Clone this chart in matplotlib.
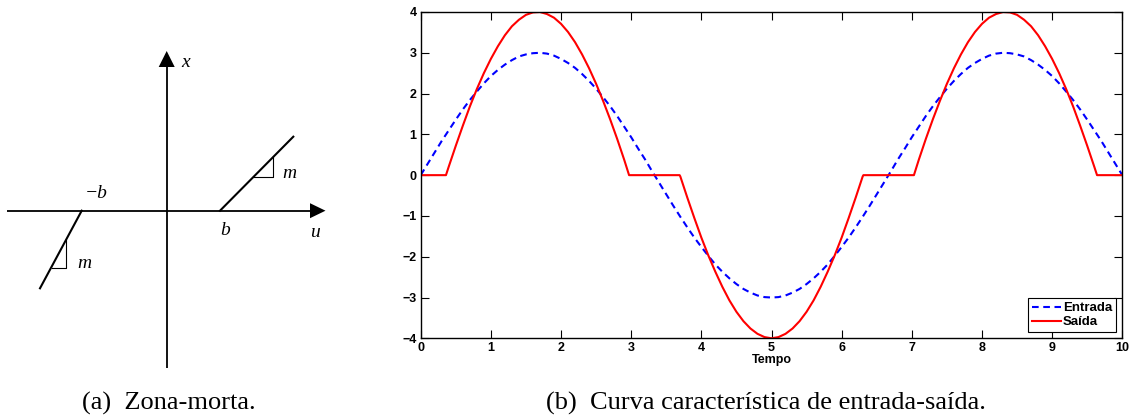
import matplotlib
matplotlib.use("Agg")
import matplotlib.pyplot as plt
from matplotlib.patches import Polygon

# ---------------- data (right panel) ----------------
t_entrada = [0.0, 0.1, 0.2, 0.3, 0.4, 0.5, 0.6, 0.7, 0.8, 0.9,
             1.0, 1.1, 1.2, 1.3, 1.4, 1.5, 1.6, 1.7, 1.8, 1.9,
             2.0, 2.1, 2.2, 2.3, 2.4, 2.5, 2.6, 2.7, 2.8, 2.9,
             3.0, 3.1, 3.2, 3.3, 3.4, 3.5, 3.6, 3.7, 3.8, 3.9,
             4.0, 4.1, 4.2, 4.3, 4.4, 4.5, 4.6, 4.7, 4.8, 4.9,
             5.0, 5.1, 5.2, 5.3, 5.4, 5.5, 5.6, 5.7, 5.8, 5.9,
             6.0, 6.1, 6.2, 6.3, 6.4, 6.5, 6.6, 6.7, 6.8, 6.9,
             7.0, 7.1, 7.2, 7.3, 7.4, 7.5, 7.6, 7.7, 7.8, 7.9,
             8.0, 8.1, 8.2, 8.3, 8.4, 8.5, 8.6, 8.7, 8.8, 8.9,
             9.0, 9.1, 9.2, 9.3, 9.4, 9.5, 9.6, 9.7, 9.8, 9.9, 10.0]
entrada = [0.00, 0.28, 0.56, 0.84, 1.10, 1.36, 1.61, 1.84, 2.05, 2.25,
           2.43, 2.58, 2.71, 2.82, 2.91, 2.96, 2.99, 3.00, 2.98, 2.93,
           2.85, 2.75, 2.63, 2.48, 2.31, 2.12, 1.91, 1.69, 1.45, 1.19,
           0.93, 0.65, 0.38, 0.09, -0.19, -0.47, -0.75, -1.02, -1.28, -1.53,
           -1.76, -1.98, -2.19, -2.37, -2.53, -2.67, -2.79, -2.88, -2.95, -2.99,
           -3.00, -2.99, -2.95, -2.88, -2.79, -2.67, -2.53, -2.37, -2.19, -1.98,
           -1.76, -1.53, -1.28, -1.02, -0.75, -0.47, -0.19, 0.09, 0.38, 0.65,
           0.93, 1.19, 1.45, 1.69, 1.91, 2.12, 2.31, 2.48, 2.63, 2.75,
           2.85, 2.93, 2.98, 3.00, 2.99, 2.96, 2.91, 2.82, 2.71, 2.58,
           2.43, 2.25, 2.05, 1.84, 1.61, 1.36, 1.10, 0.84, 0.56, 0.28, 0.00]

t_saida = [0.0, 0.1, 0.2, 0.3, 0.36, 0.4, 0.5, 0.6, 0.7, 0.8, 0.9,
           1.0, 1.1, 1.2, 1.3, 1.4, 1.5, 1.6, 1.7, 1.8, 1.9,
           2.0, 2.1, 2.2, 2.3, 2.4, 2.5, 2.6, 2.7, 2.8, 2.9, 2.97,
           3.0, 3.1, 3.2, 3.3, 3.4, 3.5, 3.6, 3.69, 3.7, 3.8, 3.9,
           4.0, 4.1, 4.2, 4.3, 4.4, 4.5, 4.6, 4.7, 4.8, 4.9,
           5.0, 5.1, 5.2, 5.3, 5.4, 5.5, 5.6, 5.7, 5.8, 5.9,
           6.0, 6.1, 6.2, 6.3, 6.31, 6.4, 6.5, 6.6, 6.7, 6.8, 6.9,
           7.0, 7.03, 7.1, 7.2, 7.3, 7.4, 7.5, 7.6, 7.7, 7.8, 7.9,
           8.0, 8.1, 8.2, 8.3, 8.4, 8.5, 8.6, 8.7, 8.8, 8.9,
           9.0, 9.1, 9.2, 9.3, 9.4, 9.5, 9.6, 9.64, 9.7, 9.8, 9.9, 10.0]
saida = [0.00, 0.00, 0.00, 0.00, 0.00, 0.21, 0.72, 1.21, 1.68, 2.11, 2.50,
         2.85, 3.16, 3.43, 3.65, 3.81, 3.93, 3.99, 4.00, 3.95, 3.86,
         3.71, 3.51, 3.26, 2.96, 2.62, 2.24, 1.82, 1.37, 0.89, 0.38, 0.00,
         0.00, 0.00, 0.00, 0.00, 0.00, 0.00, 0.00, 0.00, -0.03, -0.55, -1.05,
         -1.53, -1.97, -2.37, -2.74, -3.07, -3.35, -3.58, -3.76, -3.89, -3.97,
         -4.00, -3.97, -3.89, -3.76, -3.58, -3.35, -3.07, -2.74, -2.37, -1.97,
         -1.53, -1.05, -0.55, -0.03, 0.00, 0.00, 0.00, 0.00, 0.00, 0.00, 0.00,
         0.00, 0.00, 0.38, 0.89, 1.37, 1.82, 2.24, 2.62, 2.96, 3.26, 3.51,
         3.71, 3.86, 3.95, 4.00, 3.99, 3.93, 3.81, 3.65, 3.43, 3.16,
         2.85, 2.50, 2.11, 1.68, 1.21, 0.72, 0.21, 0.00, 0.00, 0.00, 0.00, 0.00]

x_ticks = [0, 1, 2, 3, 4, 5, 6, 7, 8, 9, 10]
y_ticks = [-4, -3, -2, -1, 0, 1, 2, 3, 4]
legend_labels = ["Entrada", "Saída"]
xlabel = "Tempo"
caption_a = "(a)  Zona-morta."
caption_b = "(b)  Curva característica de entrada-saída."

# ---------------- diagram geometry (left panel, in pixel-like units) ----------------
h_axis = ([7, 312], [210.7, 210.7])
v_axis = ([166.7, 166.7], [368, 64])
seg_right = ([220, 293.3], [210.7, 136.7])
seg_left = ([81.7, 40], [210.7, 288.3])
tri_right = ([253.3, 272.7, 272.7], [177.3, 177.3, 157.3])
tri_left = ([51.7, 66, 66], [268.3, 268.3, 240])

W, H = 1131, 417
fig = plt.figure(figsize=(W / 100, H / 100), dpi=100)

# ----- left diagram -----
axd = fig.add_axes([0, 0, 340 / W, 1])
axd.set_xlim(0, 340)
axd.set_ylim(H, 0)
axd.axis("off")
axd.plot(*h_axis, color="black", lw=1.3, solid_capstyle="butt")
axd.plot(*v_axis, color="black", lw=1.3, solid_capstyle="butt")
axd.add_patch(Polygon([[310, 203.2], [325.5, 210.7], [310, 218.2]], closed=True,
                      color="black", lw=0))
axd.add_patch(Polygon([[158.7, 67], [166.7, 51], [174.7, 67]], closed=True,
                      color="black", lw=0))
axd.plot(*seg_right, color="black", lw=1.5)
axd.plot(*seg_left, color="black", lw=1.5)
axd.plot(*tri_right, color="black", lw=0.8)
axd.plot(*tri_left, color="black", lw=0.8)
serif_it = dict(family="Liberation Serif", style="italic", fontsize=14, color="black")
axd.text(181, 62, "x", ha="left", va="center", **serif_it)
axd.text(315, 232, "u", ha="center", va="center", **serif_it)
axd.text(225.5, 230, "b", ha="center", va="center", **serif_it)
axd.text(96.5, 193, "−b", ha="center", va="center", **serif_it)
axd.text(282, 173, "m", ha="left", va="center", **serif_it)
axd.text(77, 263, "m", ha="left", va="center", **serif_it)

# ----- right plot -----
x0, x1, y0, y1 = 420.7, 1122.3, 12, 338.3
ax = fig.add_axes([x0 / W, (H - y1) / H, (x1 - x0) / W, (y1 - y0) / H])
ax.plot(t_entrada, entrada, color="#0000ff", lw=1.5, dashes=(3.2, 2.2),
        label=legend_labels[0])
ax.plot(t_saida, saida, color="#ff0000", lw=1.5, label=legend_labels[1])
ax.set_xlim(0, 10)
ax.set_ylim(-4, 4)
lab_font = dict(family="Liberation Sans", weight="bold", size=9)
ax.set_xticks(x_ticks)
ax.set_xticklabels([str(v) for v in x_ticks], **lab_font)
ax.set_yticks(y_ticks)
ax.set_yticklabels([str(v).replace("-", "−") for v in y_ticks], **lab_font)
ax.tick_params(direction="in", length=6, width=0.8, top=True, right=True, pad=3,
               colors="black")
for s in ax.spines.values():
    s.set_linewidth(1.0)
    s.set_color("black")
ax.set_xlabel(xlabel, labelpad=0, **lab_font)
leg = ax.legend(loc="lower right", fancybox=False, edgecolor="black", framealpha=1,
                prop=dict(family="Liberation Sans", weight="bold", size=9.5),
                handlelength=2.2, handletextpad=0.15, borderaxespad=0.45,
                borderpad=0.3, labelspacing=0.15)
leg.get_frame().set_linewidth(0.8)

# ----- captions -----
cap = dict(family="Liberation Serif", fontsize=19, color="black", va="baseline", ha="left")
fig.text(81.5 / W, 1 - 410 / H, caption_a, **cap)
fig.text(546.5 / W, 1 - 410 / H, caption_b, **cap)

fig.savefig("out.png", dpi=100)
